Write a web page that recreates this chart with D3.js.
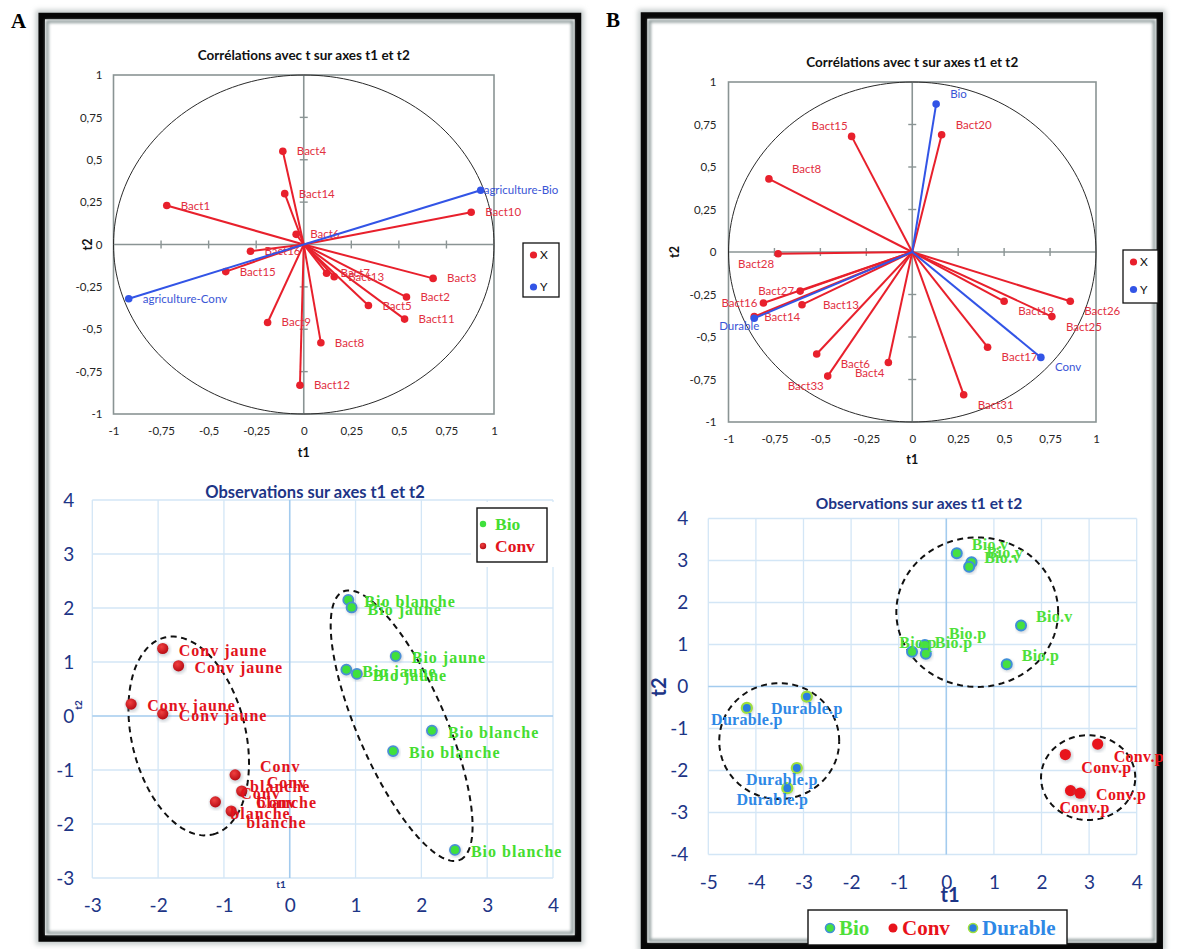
<!DOCTYPE html>
<html><head><meta charset="utf-8">
<script src="https://cdn.jsdelivr.net/npm/d3@7/dist/d3.min.js"></script>
<style>html,body{margin:0;padding:0;background:#fff;}svg{display:block;}</style>
</head><body>
<svg id="chart" width="1178" height="949"></svg>
<script>
// ====================== DATA ======================
const corrTicks = [-1, -0.75, -0.5, -0.25, 0, 0.25, 0.5, 0.75, 1];

// Panel A – correlation circle
const corrA_X_names = ["Bact1","Bact2","Bact3","Bact4","Bact5","Bact6","Bact7","Bact8","Bact9","Bact10","Bact11","Bact12","Bact13","Bact14","Bact15","Bact16"];
const corrA_X_t1 = [-0.72, 0.54, 0.68, -0.11, 0.34, -0.04, 0.12, 0.09, -0.19, 0.88, 0.53, -0.02, 0.16, -0.10, -0.41, -0.28];
const corrA_X_t2 = [0.23, -0.31, -0.20, 0.55, -0.36, 0.06, -0.17, -0.58, -0.46, 0.19, -0.44, -0.83, -0.19, 0.30, -0.16, -0.04];
const corrA_X_place = ["r","r","r","r","r","r","r","r","r","r","r","r","r","r","r","r"];
const corrA_Y_names = ["agriculture-Bio","agriculture-Conv"];
const corrA_Y_t1 = [0.93, -0.92];
const corrA_Y_t2 = [0.32, -0.32];
const corrA_Y_place = ["rt","r"];

// Panel B – correlation circle
const corrB_X_names = ["Bact4","Bact6","Bact8","Bact13","Bact14","Bact15","Bact16","Bact17","Bact19","Bact20","Bact25","Bact26","Bact27","Bact28","Bact31","Bact33"];
const corrB_X_t1 = [-0.13, -0.52, -0.78, -0.60, -0.86, -0.33, -0.81, 0.41, 0.50, 0.16, 0.76, 0.86, -0.61, -0.73, 0.28, -0.46];
const corrB_X_t2 = [-0.65, -0.60, 0.43, -0.31, -0.38, 0.68, -0.30, -0.56, -0.29, 0.69, -0.38, -0.29, -0.23, -0.01, -0.84, -0.73];
const corrB_X_place = ["bl","brr","arr","rr","rn","al","l","br","br","ar","br","br","l","bl","br","bl"];
const corrB_Y_names = ["Bio","Conv","Durable"];
const corrB_Y_t1 = [0.13, 0.70, -0.86];
const corrB_Y_t2 = [0.87, -0.62, -0.39];
const corrB_Y_place = ["ar","br","bc"];

// Panel A – observations
const obsA_xTicks = [-3,-2,-1,0,1,2,3,4];
const obsA_yTicks = [-3,-2,-1,0,1,2,3,4];
const obsA_groups = ["Bio","Conv"];
const obsA_group = ["Bio","Bio","Bio","Bio","Bio","Bio","Bio","Bio","Conv","Conv","Conv","Conv","Conv","Conv","Conv","Conv"];
const obsA_labels = ["Bio blanche","Bio jaune","Bio jaune","Bio jaune","Bio jaune","Bio blanche","Bio blanche","Bio blanche",
                     "Conv jaune","Conv jaune","Conv jaune","Conv jaune","Conv\nblanche","Conv\nblanche","Conv\nblanche","Conv\nblanche"];
const obsA_t1 = [0.89, 0.94, 1.61, 0.86, 1.02, 2.16, 1.57, 2.51, -1.93, -1.69, -2.41, -1.93, -0.83, -0.73, -1.13, -0.89];
const obsA_t2 = [2.15, 2.01, 1.11, 0.86, 0.78, -0.27, -0.65, -2.48, 1.25, 0.93, 0.22, 0.04, -1.09, -1.39, -1.59, -1.76];
// dashed group envelopes: centre and two conjugate half-axes (data units)
const obsA_envCx = [-1.535, 1.70];
const obsA_envCy = [-0.37, -0.18];
const obsA_envU  = [[0.365, -1.824], [0.887, -2.485]];
const obsA_envV  = [[0.84, 0.25], [0.613, 0.326]];

// Panel B – observations
const obsB_xTicks = [-5,-4,-3,-2,-1,0,1,2,3,4];
const obsB_yTicks = [-4,-3,-2,-1,0,1,2,3,4];
const obsB_groups = ["Bio","Conv","Durable"];
const obsB_group = ["Bio","Bio","Bio","Bio","Bio","Bio","Bio","Bio","Durable","Durable","Durable","Durable","Conv","Conv","Conv","Conv"];
const obsB_labels = ["Bio.v","Bio.v","Bio.v","Bio.v","Bio.p","Bio.p","Bio.p","Bio.p",
                     "Durable.p","Durable.p","Durable.p","Durable.p","Conv.p","Conv.p","Conv.p","Conv.p"];
const obsB_t1 = [0.22, 0.53, 0.48, 1.57, 1.27, -0.45, -0.43, -0.72, -4.19, -2.93, -3.14, -3.34, 3.18, 2.50, 2.61, 2.81];
const obsB_t2 = [3.17, 2.96, 2.85, 1.45, 0.53, 0.99, 0.78, 0.83, -0.51, -0.24, -1.94, -2.42, -1.37, -1.62, -2.48, -2.54];
const obsB_place = ["ar","ar","ar","ar","ar","arr","arn","ac","b","b","bw","bw","br","br","bb","r"];
const obsB_envCx = [0.65, -3.51, 2.98];
const obsB_envCy = [1.77, -1.30, -2.17];
const obsB_envU  = [[1.70, 0], [1.26, 0], [0.99, 0]];
const obsB_envV  = [[0, 1.78], [0, 1.38], [0, 1.01]];

// ====================== STYLE / LAYOUT ======================
const SANS = "Lato, 'Open Sans', 'DejaVu Sans', sans-serif";
const SERIF = "'Liberation Serif', 'Times New Roman', serif";
const NAVY = "#1d3586";
const RED = "#e8202c", RED_T = "#e2303f";
const BLUE = "#3254e6", BLUE_T = "#3a55d6";
const frLocale = d3.formatLocale({decimal: ",", thousands: " ", grouping: [3], currency: ["", ""], minus: "-"});
const fmtCorr = v => v === 0 ? "0" : frLocale.format("~g")(v);
const fmtInt = frLocale.format("d");

const CPLACE = {
  r:{a:"start",dx:14,dy:0}, rr:{a:"start",dx:21,dy:0}, rn:{a:"start",dx:10,dy:0}, rt:{a:"start",dx:3,dy:0},
  l:{a:"end",dx:-6,dy:0}, ar:{a:"start",dx:14,dy:-10}, arr:{a:"start",dx:23,dy:-10},
  al:{a:"end",dx:-4,dy:-10}, br:{a:"start",dx:14,dy:10}, brr:{a:"start",dx:24,dy:10},
  bl:{a:"end",dx:-4,dy:10}, bc:{a:"middle",dx:-15,dy:8}
};
const OPLACE = {
  r:{a:"start",dx:16,dy:2}, ar:{a:"start",dx:15,dy:-9}, arr:{a:"start",dx:24,dy:-11},
  arn:{a:"start",dx:9,dy:-11}, ac:{a:"middle",dx:6,dy:-9}, b:{a:"middle",dx:0,dy:12},
  bw:{a:"middle",dx:-15,dy:12}, br:{a:"start",dx:16,dy:13}, bb:{a:"middle",dx:14,dy:17}
};

const svg = d3.select("#chart");
const defs = svg.append("defs");
defs.append("filter").attr("id","blur2").attr("x","-5%").attr("y","-5%").attr("width","110%").attr("height","110%")
  .append("feGaussianBlur").attr("stdDeviation",1.5);
defs.append("filter").attr("id","blur4").attr("x","-5%").attr("y","-5%").attr("width","110%").attr("height","110%")
  .append("feGaussianBlur").attr("stdDeviation",2.5);
const rg = defs.append("radialGradient").attr("id","convA").attr("cx","40%").attr("cy","35%").attr("r","65%");
rg.append("stop").attr("offset","0%").attr("stop-color","#f04040");
rg.append("stop").attr("offset","100%").attr("stop-color","#b80d15");

// ---------- frames ----------
function frame(x, y, w, h){
  svg.append("rect").attr("x",x).attr("y",y).attr("width",w).attr("height",h)
    .attr("fill","none").attr("stroke","#c4caca").attr("stroke-width",12).attr("filter","url(#blur4)");
  svg.append("rect").attr("x",x).attr("y",y).attr("width",w).attr("height",h)
    .attr("fill","#fff").attr("stroke","#060606").attr("stroke-width",6.5);
  svg.append("rect").attr("x",x+5.5).attr("y",y+5.5).attr("width",w-11).attr("height",h-11)
    .attr("fill","none").attr("stroke","#909c9c").attr("stroke-width",3).attr("filter","url(#blur2)");
}
frame(41.7, 16, 536.3, 922.5);
frame(644, 15.5, 515.7, 930.5);
svg.append("text").attr("x",11).attr("y",28).text("A").attr("font-family",SERIF).attr("font-weight","bold").attr("font-size",21);
svg.append("text").attr("x",606).attr("y",27).text("B").attr("font-family",SERIF).attr("font-weight","bold").attr("font-size",21);

// ---------- correlation circle ----------
function drawCorr(o){
  const g = svg.append("g");
  const x = o.x, y = o.y;
  const X0 = x(-1), X1 = x(1), Y0 = y(1), Y1 = y(-1);
  const ac = "#8a9494";
  g.append("rect").attr("x",X0).attr("y",Y0).attr("width",X1-X0).attr("height",Y1-Y0)
    .attr("fill","none").attr("stroke",ac).attr("stroke-width",1.6);
  g.append("line").attr("x1",X0).attr("x2",X1).attr("y1",y(0)).attr("y2",y(0)).attr("stroke",ac).attr("stroke-width",1.6);
  g.append("line").attr("x1",x(0)).attr("x2",x(0)).attr("y1",Y0).attr("y2",Y1).attr("stroke",ac).attr("stroke-width",1.6);
  corrTicks.filter(t => t !== 0 && Math.abs(t) !== 1).forEach(t => {
    g.append("line").attr("x1",x(t)).attr("x2",x(t)).attr("y1",y(0)-4).attr("y2",y(0)+4).attr("stroke",ac).attr("stroke-width",1.4);
    g.append("line").attr("x1",x(0)-4).attr("x2",x(0)+4).attr("y1",y(t)).attr("y2",y(t)).attr("stroke",ac).attr("stroke-width",1.4);
  });
  const axB = g.append("g").attr("transform",`translate(0,${Y1})`)
    .call(d3.axisBottom(x).tickValues(corrTicks).tickFormat(fmtCorr).tickSize(0).tickPadding(o.xPad));
  const axL = g.append("g").attr("transform",`translate(${X0},0)`)
    .call(d3.axisLeft(y).tickValues(corrTicks).tickFormat(fmtCorr).tickSize(0).tickPadding(o.yPad));
  [axB, axL].forEach(a => {
    a.select(".domain").remove();
    a.attr("font-family",SANS).attr("font-size",11.5);
    a.selectAll("text").attr("fill","#262626");
  });
  // unit circle
  const pts = d3.range(0, 361, 2).map(a => [x(Math.cos(a*Math.PI/180)), y(Math.sin(a*Math.PI/180))]);
  g.append("path").attr("d", d3.line()(pts)).attr("fill","none").attr("stroke","#2a2a2a").attr("stroke-width",1);
  // vectors
  function series(names, t1, t2, place, col, tcol){
    names.forEach((n,i) => {
      g.append("line").attr("x1",x(0)).attr("y1",y(0)).attr("x2",x(t1[i])).attr("y2",y(t2[i]))
        .attr("stroke",col).attr("stroke-width",2);
    });
    names.forEach((n,i) => {
      g.append("circle").attr("cx",x(t1[i])).attr("cy",y(t2[i])).attr("r",3.8).attr("fill",col);
      const p = CPLACE[place[i]];
      g.append("text").attr("x",x(t1[i])+p.dx).attr("y",y(t2[i])+p.dy).attr("dy","0.35em")
        .attr("text-anchor",p.a).attr("font-family",SANS).attr("font-size",11.5).attr("fill",tcol).text(n);
    });
  }
  series(o.xs.names, o.xs.t1, o.xs.t2, o.xs.place, RED, RED_T);
  series(o.ys.names, o.ys.t1, o.ys.t2, o.ys.place, BLUE, BLUE_T);
  // titles
  g.append("text").attr("x",(X0+X1)/2).attr("y",o.titleY).attr("text-anchor","middle")
    .attr("font-family",SANS).attr("font-weight","bold").attr("font-size",13.5).attr("fill","#111")
    .text("Corrélations avec t sur axes t1 et t2");
  g.append("text").attr("x",x(0)).attr("y",o.t1Y).attr("text-anchor","middle")
    .attr("font-family",SANS).attr("font-weight","bold").attr("font-size",12.5).attr("fill","#111").text("t1");
  g.append("text").attr("transform",`translate(${o.t2X},${y(0)}) rotate(-90)`).attr("text-anchor","middle")
    .attr("font-family",SANS).attr("font-weight","bold").attr("font-size",12.5).attr("fill","#111").text("t2");
  // legend
  const L = o.legend;
  g.append("rect").attr("x",L.x).attr("y",L.y).attr("width",L.w).attr("height",L.h)
    .attr("fill","#fff").attr("stroke","#111").attr("stroke-width",1.3);
  [["X",RED],["Y",BLUE]].forEach((d,i) => {
    const cy = L.y + 12 + i*L.step;
    g.append("circle").attr("cx",L.x+10.5).attr("cy",cy).attr("r",3.6).attr("fill",d[1]);
    g.append("text").attr("x",L.x+17).attr("y",cy).attr("dy","0.35em").attr("font-family",SANS)
      .attr("font-size",12).attr("fill","#111").text(d[0]);
  });
}

drawCorr({
  x: d3.scaleLinear().domain([-1,1]).range([113.5,494]),
  y: d3.scaleLinear().domain([-1,1]).range([414,75]),
  xPad: 13, yPad: 11, titleY: 60, t1Y: 457, t2X: 92,
  legend: {x:523, y:243, w:36, h:54, step:32},
  xs: {names:corrA_X_names, t1:corrA_X_t1, t2:corrA_X_t2, place:corrA_X_place},
  ys: {names:corrA_Y_names, t1:corrA_Y_t1, t2:corrA_Y_t2, place:corrA_Y_place}
});
drawCorr({
  x: d3.scaleLinear().domain([-1,1]).range([728.5,1096]),
  y: d3.scaleLinear().domain([-1,1]).range([422,82]),
  xPad: 13, yPad: 12, titleY: 67, t1Y: 464, t2X: 679,
  legend: {x:1123, y:250, w:35, h:53, step:27.5},
  xs: {names:corrB_X_names, t1:corrB_X_t1, t2:corrB_X_t2, place:corrB_X_place},
  ys: {names:corrB_Y_names, t1:corrB_Y_t1, t2:corrB_Y_t2, place:corrB_Y_place}
});

// ---------- observations ----------
function drawObs(o){
  const g = svg.append("g");
  const x = o.x, y = o.y;
  const xT = o.xTicks, yT = o.yTicks;
  const xmin = d3.min(xT), xmax = d3.max(xT), ymin = d3.min(yT), ymax = d3.max(yT);
  const grid = "#d3e6f6", zero = "#a3cbee";
  xT.filter(t => t !== 0).forEach(t => g.append("line").attr("x1",x(t)).attr("x2",x(t)).attr("y1",y(ymax)).attr("y2",y(ymin)).attr("stroke",grid).attr("stroke-width",1.3));
  yT.filter(t => t !== 0).forEach(t => g.append("line").attr("x1",x(xmin)).attr("x2",x(xmax)).attr("y1",y(t)).attr("y2",y(t)).attr("stroke",grid).attr("stroke-width",1.3));
  g.append("line").attr("x1",x(0)).attr("x2",x(0)).attr("y1",y(ymax)).attr("y2",y(ymin)).attr("stroke",zero).attr("stroke-width",1.6);
  g.append("line").attr("x1",x(xmin)).attr("x2",x(xmax)).attr("y1",y(0)).attr("y2",y(0)).attr("stroke",zero).attr("stroke-width",1.6);
  const axB = g.append("g").attr("transform",`translate(0,${y(ymin)})`)
    .call(d3.axisBottom(x).tickValues(xT).tickFormat(fmtInt).tickSize(0).tickPadding(o.xPad));
  const axL = g.append("g").attr("transform",`translate(${x(xmin)},0)`)
    .call(d3.axisLeft(y).tickValues(yT).tickFormat(fmtInt).tickSize(0).tickPadding(o.yPad));
  [axB, axL].forEach(a => {
    a.select(".domain").remove();
    a.attr("font-family",SANS).attr("font-size",19);
    a.selectAll("text").attr("fill",NAVY);
  });
  // title
  g.append("text").attr("x",o.titleX).attr("y",o.titleY).attr("text-anchor","middle")
    .attr("font-family",SANS).attr("font-weight","bold").attr("font-size",o.titleS).attr("fill",NAVY)
    .text("Observations sur axes t1 et t2");
  // axis titles
  g.append("text").attr("x",o.t1.x).attr("y",o.t1.y).attr("text-anchor","middle").attr("dy","0.35em")
    .attr("font-family",SANS).attr("font-weight","bold").attr("font-size",o.t1.s).attr("fill",NAVY).text("t1");
  g.append("text").attr("transform",`translate(${o.t2.x},${o.t2.y}) rotate(-90)`).attr("text-anchor","middle").attr("dy","0.35em")
    .attr("font-family",SANS).attr("font-weight","bold").attr("font-size",o.t2.s).attr("fill",NAVY).text("t2");
  // envelopes
  o.env.cx.forEach((cx,k) => {
    const u = o.env.u[k], v = o.env.v[k], cy = o.env.cy[k];
    const pts = d3.range(0, 361, 3).map(a => {
      const c = Math.cos(a*Math.PI/180), s = Math.sin(a*Math.PI/180);
      return [x(cx + u[0]*c + v[0]*s), y(cy + u[1]*c + v[1]*s)];
    });
    g.append("path").attr("d", d3.line()(pts)).attr("fill","none").attr("stroke","#111")
      .attr("stroke-width",2).attr("stroke-dasharray","6,4.5");
  });
  // points
  const P = o.points;
  for (let i = 0; i < P.t1.length; i++){
    const st = o.style[P.group[i]];
    g.append("circle").attr("cx",x(P.t1[i])+0.8).attr("cy",y(P.t2[i])+1.2).attr("r",st.r+1.2)
      .attr("fill","#7a8a9a").attr("opacity",0.35).attr("filter","url(#blur2)");
    g.append("circle").attr("cx",x(P.t1[i])).attr("cy",y(P.t2[i])).attr("r",st.r)
      .attr("fill",st.fill).attr("stroke",st.stroke || "none").attr("stroke-width",st.sw || 0);
  }
  for (let i = 0; i < P.t1.length; i++){
    const st = o.style[P.group[i]];
    const px = x(P.t1[i]), py = y(P.t2[i]);
    const lines = P.labels[i].split("\n");
    const t = g.append("text").attr("font-family",SERIF).attr("font-weight","bold").attr("font-size",16)
      .attr("fill",st.text).style("letter-spacing",o.ls + "px");
    if (lines.length > 1){
      const ts = lines.map((l,j) => t.append("tspan").attr("y", py + (j === 0 ? -8 : 12)).attr("dy","0.33em").text(l));
      const w = d3.max(ts, s => s.node().getComputedTextLength());
      ts.forEach(s => s.attr("x", px + 15 + w/2).attr("text-anchor","middle"));
    } else {
      const p = OPLACE[P.place ? P.place[i] : "r"];
      t.attr("x", px + p.dx).attr("y", py + p.dy).attr("dy","0.33em").attr("text-anchor",p.a).text(lines[0]);
    }
  }
  // legend
  const L = o.legend;
  if (L.bg) g.append("rect").attr("x",L.bg[0]).attr("y",L.bg[1]).attr("width",L.bg[2]).attr("height",L.bg[3]).attr("fill","#fff");
  g.append("rect").attr("x",L.x).attr("y",L.y).attr("width",L.w).attr("height",L.h)
    .attr("fill","#fff").attr("stroke","#111").attr("stroke-width",1.4);
  o.groups.forEach((grp,i) => {
    const st = o.style[grp];
    const mx = L.items[i][0], my = L.items[i][1];
    g.append("circle").attr("cx",mx).attr("cy",my).attr("r",L.r).attr("fill",st.fill)
      .attr("stroke",L.ring ? (st.stroke || "none") : "none").attr("stroke-width",L.ring ? 1.6 : 0);
    g.append("text").attr("x",mx + L.tx).attr("y",my).attr("dy","0.35em").attr("font-family",SERIF)
      .attr("font-weight","bold").attr("font-size",L.fs).attr("fill",st.text).text(grp);
  });
}

drawObs({
  x: d3.scaleLinear().domain([-3,4]).range([92.3,553]),
  y: d3.scaleLinear().domain([-3,4]).range([878,500]),
  xTicks: obsA_xTicks, yTicks: obsA_yTicks, xPad: 21, yPad: 18, ls: 1,
  titleX: 315, titleY: 498, titleS: 16.5,
  t1: {x:281, y:884, s:10}, t2: {x:78, y:705, s:10},
  env: {cx: obsA_envCx, cy: obsA_envCy, u: obsA_envU, v: obsA_envV},
  points: {t1: obsA_t1, t2: obsA_t2, group: obsA_group, labels: obsA_labels},
  groups: obsA_groups,
  style: {
    Bio: {fill:"#3fe03c", stroke:"#4a8ed6", sw:1.8, r:5, text:"#45dd30"},
    Conv:{fill:"url(#convA)", r:5.6, text:"#e2131c"}
  },
  legend: {x:477, y:508, w:70, h:54, r:3.2, tx:12, fs:17.5, ring:false,
           items: [[483,524],[483,546]], bg:[471,502,86,65]}
});
drawObs({
  x: d3.scaleLinear().domain([-5,4]).range([708.3,1136.7]),
  y: d3.scaleLinear().domain([-4,4]).range([854.5,518.5]),
  xTicks: obsB_xTicks, yTicks: obsB_yTicks, xPad: 21, yPad: 20, ls: 0.3,
  titleX: 919, titleY: 509, titleS: 15.5,
  t1: {x:950, y:895, s:20}, t2: {x:659, y:687, s:20},
  env: {cx: obsB_envCx, cy: obsB_envCy, u: obsB_envU, v: obsB_envV},
  points: {t1: obsB_t1, t2: obsB_t2, group: obsB_group, labels: obsB_labels, place: obsB_place},
  groups: obsB_groups,
  style: {
    Bio: {fill:"#46e040", stroke:"#3f8fd8", sw:2, r:5, text:"#4ee03a"},
    Conv:{fill:"#e8141c", r:5.6, text:"#e8121a"},
    Durable:{fill:"#2a7ee0", stroke:"#9ee03c", sw:2.2, r:5, text:"#2e88e6"}
  },
  legend: {x:808, y:910, w:259, h:35, r:4.5, tx:9, fs:21, ring:true,
           items: [[830,928],[893,928],[973,928]]}
});
</script>
</body></html>
